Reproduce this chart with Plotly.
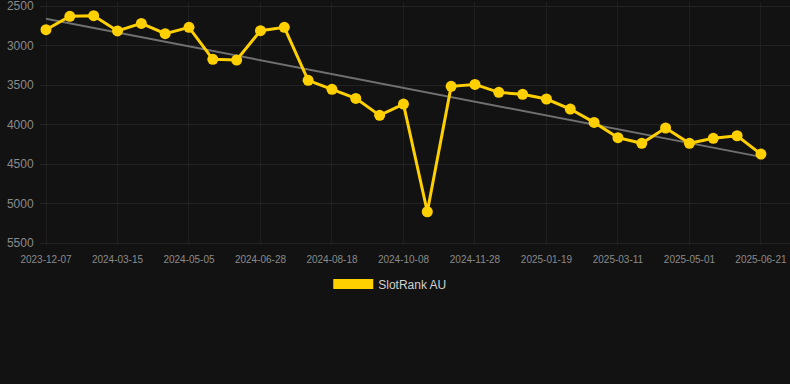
import numpy as np
import plotly.graph_objects as go

dates = [
    "2023-12-07", "2024-01-09", "2024-02-11", "2024-03-15", "2024-04-01", "2024-04-18",
    "2024-05-05", "2024-05-23", "2024-06-10", "2024-06-28", "2024-07-15", "2024-08-01",
    "2024-08-18", "2024-09-04", "2024-09-21", "2024-10-08", "2024-10-25", "2024-11-11",
    "2024-11-28", "2024-12-15", "2025-01-02", "2025-01-19", "2025-02-05", "2025-02-22",
    "2025-03-11", "2025-03-28", "2025-04-14", "2025-05-01", "2025-05-18", "2025-06-04",
    "2025-06-21",
]
ranks = [
    2800, 2630, 2622, 2815, 2720, 2850, 2770, 3175, 3184, 2812, 2770,
    3441, 3555, 3669, 3884, 3741, 5104, 3517, 3492, 3593, 3618, 3677,
    3804, 3973, 4167, 4238, 4044, 4238, 4175, 4142, 4374,
]
tick_labels = dates[::3]
y_ticks = [2500, 3000, 3500, 4000, 4500, 5000, 5500]

idx = np.arange(len(ranks))
slope, intercept = np.polyfit(idx, ranks, 1)
trend = slope * idx + intercept

YELLOW = "#FFD000"
BG = "#121212"

fig = go.Figure()
fig.add_trace(go.Scatter(
    x=dates, y=trend, mode="lines",
    line=dict(color="#707070", width=2),
    showlegend=False, hoverinfo="skip",
))
fig.add_trace(go.Scatter(
    x=dates, y=ranks, mode="lines+markers",
    line=dict(color=YELLOW, width=3),
    marker=dict(color=YELLOW, size=11),
    name="SlotRank AU", showlegend=False,
))
fig.add_trace(go.Scatter(
    x=[None], y=[None], mode="lines",
    line=dict(color=YELLOW, width=11),
    name="SlotRank AU", showlegend=True,
))

fig.update_layout(
    width=790, height=384,
    paper_bgcolor=BG, plot_bgcolor=BG,
    margin=dict(l=40, r=0, t=2, b=139),
    font=dict(family="Liberation Sans, Arial, sans-serif", color="#8a8a8a"),
    legend=dict(
        orientation="h", x=0.467, xanchor="center", y=-0.16, yanchor="middle",
        font=dict(size=12, color="#d0d0d0"), itemwidth=40,
        bgcolor="rgba(0,0,0,0)",
    ),
    xaxis=dict(
        type="category", categoryorder="array", categoryarray=dates,
        range=[-0.252, 31.22],
        tickmode="array", tickvals=tick_labels, ticktext=tick_labels,
        tickfont=dict(size=10, color="#8a8a8a"),
        showgrid=True, gridcolor="#1f1f1f", gridwidth=1,
        zeroline=False, showline=False,
        ticks="outside", ticklen=5, tickcolor=BG,
        ticklabeloverflow="allow",
    ),
    yaxis=dict(
        autorange=False, range=[5525, 2449],
        tickmode="array", tickvals=y_ticks,
        tickfont=dict(size=12, color="#8a8a8a"),
        showgrid=True, gridcolor="#222222", gridwidth=1,
        zeroline=False, showline=False,
        ticks="outside", ticklen=3, tickcolor=BG,
        ticklabeloverflow="allow",
    ),
)

fig.write_html(
    "out.html",
    config={"displayModeBar": False},
    post_script="document.body.style.margin='0';document.body.style.background='#121212';",
)
